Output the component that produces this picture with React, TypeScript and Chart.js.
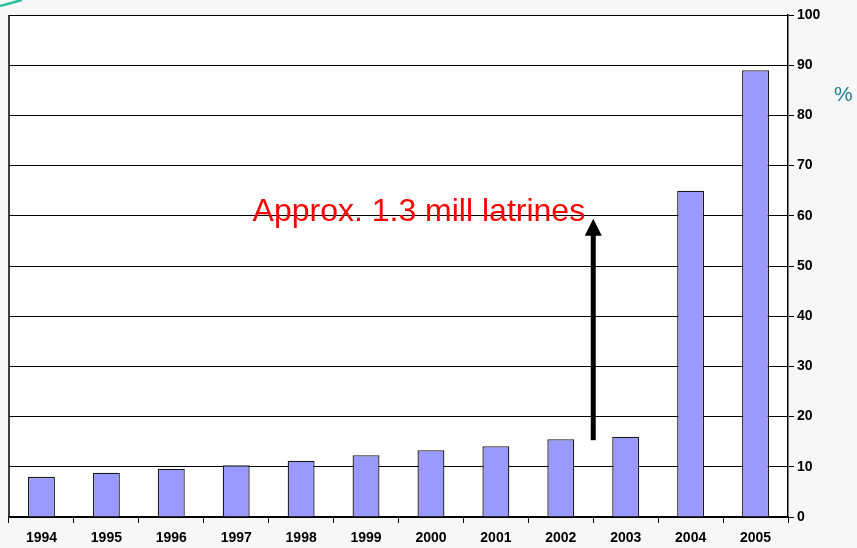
import React, { useEffect, useRef } from "react";
import { Chart, registerables } from "chart.js";

Chart.register(...registerables);

const categories = ["1994", "1995", "1996", "1997", "1998", "1999", "2000", "2001", "2002", "2003", "2004", "2005"];
const coverage = [8.0, 8.8, 9.6, 10.3, 11.2, 12.3, 13.3, 14.1, 15.5, 16.0, 65.0, 89.0];
const yTicks = [0, 10, 20, 30, 40, 50, 60, 70, 80, 90, 100];
const annotationText = "Approx. 1.3 mill latrines";
const unitLabel = "%";
// annotation anchor values (category index units / percent)
const arrowX = 8.5;
const arrowFrom = 15.3;
const arrowTo = 59.4;
const textX = 8.375;
const textY = 58.9;

const decorPlugin = {
  id: "decor",
  beforeDraw(chart: any) {
    const { ctx, chartArea, width, height } = chart;
    ctx.save();
    ctx.fillStyle = "#f7f7f7";
    ctx.fillRect(0, 0, width, height);
    ctx.fillStyle = "#ffffff";
    ctx.fillRect(chartArea.left, chartArea.top, chartArea.right - chartArea.left, chartArea.bottom - chartArea.top);
    // teal swoosh
    ctx.strokeStyle = "#2bbf9f";
    ctx.lineWidth = 2.5;
    ctx.beginPath();
    ctx.moveTo(0, 6);
    ctx.lineTo(22, 0);
    ctx.stroke();
    ctx.restore();
  },
  afterDraw(chart: any) {
    const { ctx, chartArea, scales } = chart;
    const xs = scales.x;
    const ys = scales.y;
    ctx.save();
    // left border
    ctx.strokeStyle = "#000";
    ctx.lineWidth = 1.5;
    ctx.beginPath();
    ctx.moveTo(chartArea.left, chartArea.top);
    ctx.lineTo(chartArea.left, chartArea.bottom);
    ctx.stroke();

    // arrow
    const ax = xs.getPixelForValue(arrowX);
    const y0 = ys.getPixelForValue(arrowFrom);
    const y1 = ys.getPixelForValue(arrowTo);
    const headH = 17;
    const headW = 17;
    ctx.fillStyle = "#000";
    ctx.fillRect(ax - 2.5, y1 + headH - 1, 5, y0 - (y1 + headH - 1));
    ctx.beginPath();
    ctx.moveTo(ax, y1);
    ctx.lineTo(ax + headW / 2, y1 + headH);
    ctx.lineTo(ax - headW / 2, y1 + headH);
    ctx.closePath();
    ctx.fill();

    // text
    ctx.fillStyle = "#ff0000";
    ctx.font = '32px "Liberation Sans", Arial, sans-serif';
    ctx.textAlign = "right";
    ctx.textBaseline = "alphabetic";
    ctx.fillText(annotationText, xs.getPixelForValue(textX), ys.getPixelForValue(textY));

    // unit label
    ctx.fillStyle = "#1f8090";
    ctx.font = '21px "Liberation Sans", Arial, sans-serif';
    ctx.textAlign = "left";
    ctx.fillText(unitLabel, chartArea.right + 46, ys.getPixelForValue(80) - 14);
    ctx.restore();
  },
};

export default function App() {
  const ref = useRef<HTMLCanvasElement>(null);
  useEffect(() => {
    document.body.style.margin = "0";
    document.body.style.background = "#f7f7f7";
    const chart = new Chart(ref.current!, {
      type: "bar",
      data: {
        labels: categories,
        datasets: [
          {
            data: coverage,
            backgroundColor: "#9999ff",
            borderColor: "#1a1a1a",
            borderWidth: 1.3,
            barPercentage: 0.415,
            categoryPercentage: 1,
          },
        ],
      },
      plugins: [decorPlugin],
      options: {
        animation: false,
        responsive: false,
        maintainAspectRatio: false,
        layout: { padding: { left: 9, top: 15, right: 0, bottom: 0 } },
        plugins: { legend: { display: false }, tooltip: { enabled: false } },
        scales: {
          x: {
            offset: true,
            grid: { offset: true, drawOnChartArea: false, drawTicks: true, tickLength: 6, color: "#000", lineWidth: 1 },
            border: { color: "#000", width: 1.5 },
            ticks: {
              color: "#000",
              font: { family: '"Liberation Sans", Arial, sans-serif', size: 14, weight: "bold" },
              padding: 7,
              maxRotation: 0,
              autoSkip: false,
            },
            afterFit(scale: any) {
              scale.height = 31;
            },
          },
          y: {
            position: "right",
            min: 0,
            max: 100,
            afterBuildTicks(scale: any) {
              scale.ticks = yTicks.map((v) => ({ value: v }));
            },
            grid: { color: "#000", lineWidth: 1, drawTicks: true, tickLength: 6 },
            border: { color: "#000", width: 1.5 },
            ticks: {
              color: "#000",
              font: { family: '"Liberation Sans", Arial, sans-serif', size: 14, weight: "bold" },
              padding: 3,
            },
            afterFit(scale: any) {
              scale.width = 69;
            },
          },
        },
      },
    });
    return () => chart.destroy();
  }, []);
  return (
    <div style={{ width: 857, height: 548 }}>
      <canvas ref={ref} width={857} height={548} style={{ width: 857, height: 548, display: "block" }} />
    </div>
  );
}
